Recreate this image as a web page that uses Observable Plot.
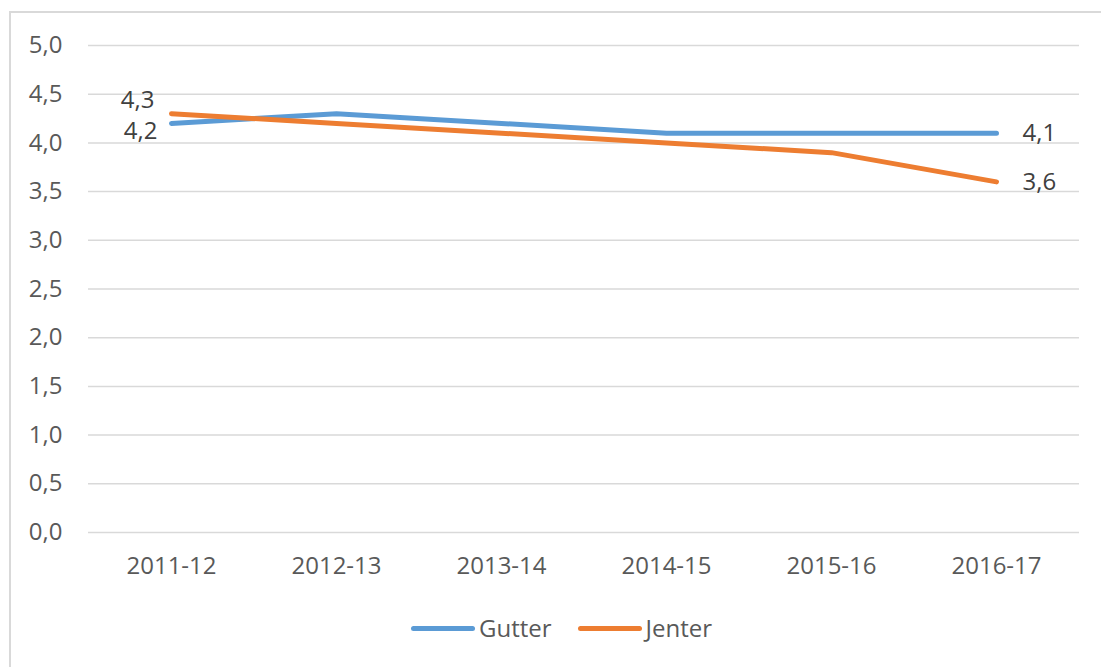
<!DOCTYPE html>
<html>
<head>
<meta charset="utf-8">
<script src="https://cdn.jsdelivr.net/npm/d3@7"></script>
<script src="https://cdn.jsdelivr.net/npm/@observablehq/plot@0.6"></script>
<style>
  html, body { margin: 0; padding: 0; background: #fff; }
  body { width: 1101px; height: 667px; overflow: hidden; position: relative; font-family: "Open Sans", sans-serif; }
  #frame { position: absolute; left: 9px; top: 11px; width: 1200px; height: 800px; border-left: 2px solid #d9d9d9; border-top: 2px solid #d9d9d9; box-sizing: border-box; }
  #chart { position: absolute; left: 0; top: 0; }
  #legend { display: flex; align-items: center; margin-left: 411px; padding-top: 8px; height: 30px; font-size: 24px; color: #595959; line-height: 30px; }
  .item { display: flex; align-items: center; margin-right: 26px; }
  .sw { width: 64px; height: 5px; border-radius: 3px; margin-right: 4px; }
</style>
</head>
<body>
<div id="frame"></div>
<div id="chart"></div>
<script>
const categories = ["2011-12", "2012-13", "2013-14", "2014-15", "2015-16", "2016-17"];
const gutter = [4.2, 4.3, 4.2, 4.1, 4.1, 4.1];
const jenter = [4.3, 4.2, 4.1, 4.0, 3.9, 3.6];
const yTicks = [0, 0.5, 1, 1.5, 2, 2.5, 3, 3.5, 4, 4.5, 5];
const seriesNames = ["Gutter", "Jenter"];
const seriesColors = ["#5b9bd5", "#ed7d31"];

const fmt = d => d.toFixed(1).replace(".", ",");

const data = [];
categories.forEach((c, i) => {
  data.push({cat: c, i, series: "Gutter", value: gutter[i]});
  data.push({cat: c, i, series: "Jenter", value: jenter[i]});
});
const last = categories.length - 1;
const gutterData = data.filter(d => d.series === "Gutter");
const jenterData = data.filter(d => d.series === "Jenter");

const plot = Plot.plot({
  width: 1101,
  height: 605,
  marginLeft: 88,
  marginRight: 22,
  marginTop: 45,
  marginBottom: 73,
  style: {fontFamily: "'Open Sans', sans-serif", fontSize: "24px", color: "#595959", background: "transparent", overflow: "visible"},
  x: {type: "point", domain: categories, padding: 0.5, label: null},
  y: {domain: [0, 5], label: null},
  color: {domain: seriesNames, range: seriesColors},
  marks: [
    Plot.ruleY(yTicks, {stroke: "#d9d9d9", strokeWidth: 1.5}),
    Plot.axisY({ticks: yTicks, tickFormat: fmt, tickSize: 0, tickPadding: 26, fontSize: 24, label: null}),
    Plot.axisX({tickSize: 0, tickPadding: 24, fontSize: 24, label: null}),
    Plot.line(data, {x: "cat", y: "value", z: "series", stroke: "series", strokeWidth: 5, strokeLinecap: "round", strokeLinejoin: "round", curve: "linear"}),
    Plot.text(gutterData.filter(d => d.i === 0), {x: "cat", y: "value", text: d => fmt(d.value), textAnchor: "end", dx: -14, dy: 8, fill: "#404040", fontSize: 24}),
    Plot.text(jenterData.filter(d => d.i === 0), {x: "cat", y: "value", text: d => fmt(d.value), textAnchor: "end", dx: -17, dy: -13, fill: "#404040", fontSize: 24}),
    Plot.text(data.filter(d => d.i === last), {x: "cat", y: "value", text: d => fmt(d.value), textAnchor: "start", dx: 26, dy: 0, fill: "#404040", fontSize: 24})
  ]
});
const chart = document.getElementById("chart");
chart.appendChild(plot);

const legend = document.createElement("div");
legend.id = "legend";
seriesNames.forEach((name, k) => {
  const item = document.createElement("div");
  item.className = "item";
  const sw = document.createElement("div");
  sw.className = "sw";
  sw.style.background = seriesColors[k];
  const label = document.createElement("span");
  label.textContent = name;
  item.appendChild(sw);
  item.appendChild(label);
  legend.appendChild(item);
});
chart.appendChild(legend);
</script>
</body>
</html>
